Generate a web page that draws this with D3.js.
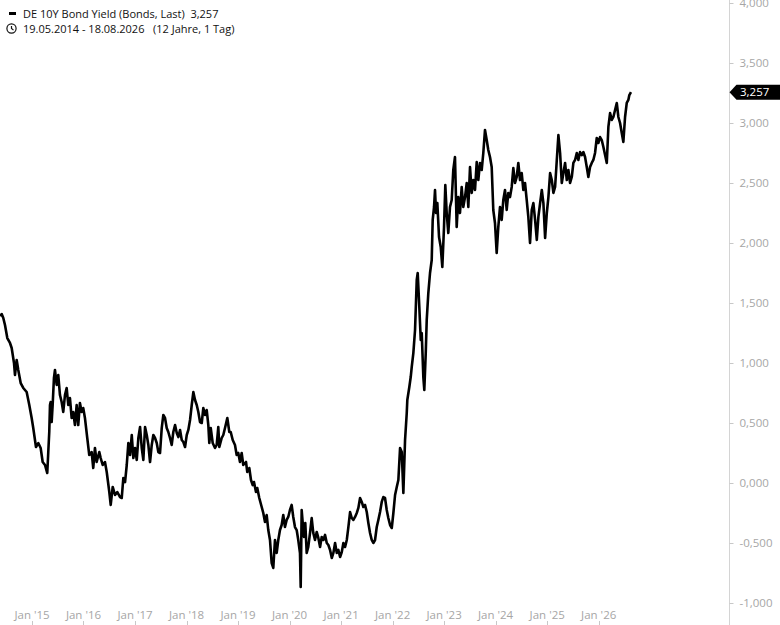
<!DOCTYPE html>
<html>
<head>
<meta charset="utf-8">
<script src="https://cdn.jsdelivr.net/npm/d3@7"></script>
<style>
  body { margin: 0; background: #fff; }
  svg { display: block; font-family: "Open Sans", "Noto Sans", sans-serif; }
</style>
</head>
<body>
<div id="chart"></div>
<script>
// chart size
var svgWidth = 780;
var svgHeight = 625;

// series: time as decimal years (percent)
var years = [
  2014.378, 2014.411, 2014.442, 2014.475, 2014.520, 2014.572, 2014.605, 2014.650, 2014.669, 2014.702,
  2014.733, 2014.780, 2014.830, 2014.896, 2014.947, 2014.993, 2015.024, 2015.077, 2015.122, 2015.168,
  2015.207, 2015.252, 2015.296, 2015.316, 2015.335, 2015.349, 2015.362, 2015.382, 2015.401, 2015.426,
  2015.446, 2015.479, 2015.510, 2015.543, 2015.576, 2015.607, 2015.640, 2015.673, 2015.704, 2015.737,
  2015.770, 2015.801, 2015.834, 2015.867, 2015.898, 2015.931, 2015.964, 2015.995, 2016.028, 2016.073,
  2016.112, 2016.158, 2016.189, 2016.222, 2016.255, 2016.306, 2016.333, 2016.372, 2016.416, 2016.450,
  2016.500, 2016.527, 2016.566, 2016.611, 2016.655, 2016.708, 2016.741, 2016.772, 2016.805, 2016.838,
  2016.869, 2016.902, 2016.935, 2016.966, 2016.999, 2017.032, 2017.063, 2017.096, 2017.129, 2017.160,
  2017.193, 2017.226, 2017.257, 2017.290, 2017.323, 2017.354, 2017.387, 2017.420, 2017.451, 2017.484,
  2017.517, 2017.548, 2017.581, 2017.614, 2017.645, 2017.678, 2017.711, 2017.742, 2017.776, 2017.809,
  2017.840, 2017.873, 2017.906, 2017.937, 2017.970, 2018.003, 2018.034, 2018.067, 2018.100, 2018.131,
  2018.164, 2018.197, 2018.228, 2018.261, 2018.294, 2018.325, 2018.358, 2018.391, 2018.422, 2018.441,
  2018.469, 2018.507, 2018.552, 2018.585, 2018.616, 2018.636, 2018.682, 2018.713, 2018.746, 2018.791,
  2018.830, 2018.857, 2018.896, 2018.940, 2018.973, 2019.004, 2019.037, 2019.070, 2019.101, 2019.154,
  2019.179, 2019.218, 2019.251, 2019.284, 2019.309, 2019.348, 2019.373, 2019.412, 2019.459, 2019.490,
  2019.523, 2019.556, 2019.587, 2019.620, 2019.653, 2019.684, 2019.717, 2019.750, 2019.781, 2019.814,
  2019.847, 2019.878, 2019.911, 2019.944, 2019.975, 2020.008, 2020.041, 2020.072, 2020.105, 2020.138,
  2020.169, 2020.202, 2020.216, 2020.235, 2020.255, 2020.280, 2020.305, 2020.332, 2020.363, 2020.396,
  2020.429, 2020.460, 2020.493, 2020.526, 2020.558, 2020.591, 2020.623, 2020.655, 2020.688, 2020.721,
  2020.752, 2020.785, 2020.818, 2020.849, 2020.882, 2020.915, 2020.946, 2020.979, 2021.012, 2021.043,
  2021.076, 2021.109, 2021.140, 2021.173, 2021.206, 2021.237, 2021.270, 2021.303, 2021.334, 2021.367,
  2021.400, 2021.431, 2021.464, 2021.497, 2021.528, 2021.561, 2021.594, 2021.625, 2021.658, 2021.691,
  2021.722, 2021.755, 2021.788, 2021.819, 2021.852, 2021.885, 2021.916, 2021.950, 2021.983, 2022.014,
  2022.047, 2022.080, 2022.111, 2022.144, 2022.177, 2022.208, 2022.241, 2022.274, 2022.285, 2022.324,
  2022.351, 2022.371, 2022.402, 2022.435, 2022.468, 2022.487, 2022.518, 2022.546, 2022.565, 2022.596,
  2022.615, 2022.643, 2022.662, 2022.693, 2022.726, 2022.759, 2022.778, 2022.804, 2022.823, 2022.843,
  2022.868, 2022.901, 2022.934, 2022.965, 2022.998, 2023.023, 2023.050, 2023.081, 2023.114, 2023.147,
  2023.178, 2023.211, 2023.244, 2023.275, 2023.308, 2023.341, 2023.372, 2023.406, 2023.439, 2023.470,
  2023.503, 2023.536, 2023.567, 2023.600, 2023.633, 2023.664, 2023.697, 2023.730, 2023.761, 2023.794,
  2023.827, 2023.858, 2023.891, 2023.924, 2023.955, 2023.988, 2024.021, 2024.052, 2024.085, 2024.118,
  2024.149, 2024.182, 2024.215, 2024.246, 2024.279, 2024.312, 2024.343, 2024.376, 2024.409, 2024.440,
  2024.473, 2024.506, 2024.537, 2024.570, 2024.603, 2024.634, 2024.667, 2024.700, 2024.732, 2024.765,
  2024.798, 2024.829, 2024.862, 2024.895, 2024.926, 2024.959, 2024.992, 2025.023, 2025.056, 2025.089,
  2025.120, 2025.153, 2025.186, 2025.217, 2025.250, 2025.283, 2025.314, 2025.347, 2025.380, 2025.411,
  2025.444, 2025.477, 2025.508, 2025.541, 2025.574, 2025.605, 2025.638, 2025.671, 2025.702, 2025.735,
  2025.768, 2025.799, 2025.832, 2025.865, 2025.896, 2025.929, 2025.962, 2025.993, 2026.026, 2026.059,
  2026.091, 2026.124, 2026.157, 2026.188, 2026.221, 2026.254, 2026.285, 2026.318, 2026.351, 2026.382,
  2026.415, 2026.448, 2026.479, 2026.512, 2026.545, 2026.576, 2026.595, 2026.627
];

var yields = [
  1.392, 1.408, 1.375, 1.317, 1.208, 1.167, 1.125, 1.000, 0.900, 1.025,
  0.942, 0.833, 0.792, 0.758, 0.650, 0.542, 0.458, 0.300, 0.333, 0.292,
  0.175, 0.150, 0.083, 0.258, 0.425, 0.650, 0.675, 0.508, 0.650, 0.875,
  0.942, 0.817, 0.900, 0.733, 0.675, 0.592, 0.733, 0.792, 0.650, 0.708,
  0.542, 0.592, 0.483, 0.650, 0.483, 0.667, 0.592, 0.625, 0.542, 0.375,
  0.233, 0.258, 0.125, 0.292, 0.175, 0.258, 0.208, 0.150, 0.175, 0.092,
  -0.075, -0.183, -0.033, -0.100, -0.075, -0.117, -0.125, 0.042, 0.008, 0.150,
  0.333, 0.233, 0.400, 0.208, 0.292, 0.192, 0.375, 0.467, 0.292, 0.192,
  0.467, 0.400, 0.317, 0.175, 0.317, 0.400, 0.375, 0.333, 0.258, 0.250,
  0.458, 0.567, 0.542, 0.458, 0.425, 0.375, 0.317, 0.425, 0.483, 0.417,
  0.383, 0.442, 0.358, 0.342, 0.300, 0.400, 0.442, 0.525, 0.650, 0.758,
  0.692, 0.650, 0.592, 0.508, 0.500, 0.625, 0.567, 0.608, 0.483, 0.333,
  0.458, 0.333, 0.292, 0.317, 0.467, 0.300, 0.375, 0.400, 0.458, 0.542,
  0.425, 0.425, 0.358, 0.317, 0.233, 0.250, 0.175, 0.250, 0.150, 0.175,
  0.092, 0.125, 0.025, -0.017, 0.008, -0.075, -0.042, -0.125, -0.200, -0.250,
  -0.325, -0.267, -0.392, -0.475, -0.667, -0.708, -0.475, -0.583, -0.475, -0.392,
  -0.350, -0.267, -0.367, -0.308, -0.283, -0.225, -0.183, -0.283, -0.367, -0.392,
  -0.475, -0.583, -0.867, -0.225, -0.333, -0.450, -0.333, -0.583, -0.533, -0.417,
  -0.292, -0.417, -0.475, -0.408, -0.458, -0.533, -0.450, -0.475, -0.433, -0.500,
  -0.517, -0.558, -0.625, -0.583, -0.500, -0.583, -0.558, -0.617, -0.575, -0.500,
  -0.533, -0.475, -0.367, -0.242, -0.292, -0.308, -0.283, -0.250, -0.208, -0.125,
  -0.158, -0.200, -0.183, -0.242, -0.333, -0.417, -0.475, -0.500, -0.475, -0.367,
  -0.308, -0.242, -0.158, -0.117, -0.125, -0.225, -0.292, -0.350, -0.375, -0.250,
  -0.100, -0.033, 0.025, 0.292, 0.258, -0.083, 0.358, 0.583, 0.692, 0.800,
  0.883, 0.967, 1.083, 1.275, 1.692, 1.750, 1.467, 1.192, 1.250, 0.883,
  0.775, 1.083, 1.358, 1.583, 1.750, 1.858, 2.192, 2.300, 2.442, 2.250,
  2.333, 2.050, 1.967, 1.800, 2.133, 2.483, 2.250, 2.083, 2.300, 2.358,
  2.608, 2.717, 2.133, 2.383, 2.250, 2.467, 2.300, 2.383, 2.500, 2.300,
  2.633, 2.417, 2.525, 2.442, 2.675, 2.525, 2.667, 2.608, 2.750, 2.942,
  2.858, 2.775, 2.717, 2.633, 2.275, 2.167, 1.917, 2.133, 2.300, 2.192,
  2.358, 2.442, 2.275, 2.417, 2.383, 2.467, 2.625, 2.500, 2.550, 2.667,
  2.525, 2.583, 2.442, 2.500, 2.358, 2.217, 2.000, 2.275, 2.333, 2.192,
  2.025, 2.217, 2.333, 2.442, 2.333, 2.042, 2.250, 2.383, 2.583, 2.525,
  2.417, 2.467, 2.692, 2.900, 2.750, 2.500, 2.583, 2.667, 2.525, 2.608,
  2.500, 2.550, 2.667, 2.692, 2.750, 2.692, 2.758, 2.733, 2.758, 2.717,
  2.633, 2.550, 2.633, 2.667, 2.692, 2.750, 2.875, 2.833, 2.883, 2.858,
  2.800, 2.733, 2.667, 2.967, 3.083, 3.025, 3.050, 3.108, 3.167, 3.050,
  3.000, 2.917, 2.842, 3.050, 3.167, 3.192, 3.233, 3.257
];

// axis ticks and header texts
var yTicks = [4, 3.5, 3, 2.5, 2, 1.5, 1, 0.5, 0, -0.5, -1];
var xTickYears = [2015, 2016, 2017, 2018, 2019, 2020, 2021, 2022, 2023, 2024, 2025, 2026];
var dateFrom = "2014-05-19";
var dateTo = "2026-08-18";
var legendTitle = "DE 10Y Bond Yield (Bonds, Last)  3,257";
var legendRange = "19.05.2014 - 18.08.2026   (12 Jahre, 1 Tag)";
var lastValue = 3.257;

// decimal year -> UTC date
function yearToDate(y) {
    var yr = Math.floor(y);
    var start = Date.UTC(yr, 0, 1);
    var end = Date.UTC(yr + 1, 0, 1);
    return new Date(start + (y - yr) * (end - start));
}

var dataset = years.map(function(y, i) {
    return { date: yearToDate(y), value: yields[i] };
});

// german number format
var deLocale = d3.formatLocale({
    decimal: ",",
    thousands: ".",
    grouping: [3],
    currency: ["", " €"],
    minus: "-"
});
var fmt = deLocale.format(".3f");

var svg = d3.select("#chart")
    .append("svg")
    .attr("width", svgWidth)
    .attr("height", svgHeight);

// scales
var xScale = d3.scaleUtc()
    .domain([new Date(dateFrom), new Date(dateTo)])
    .range([0, 631]);

var yScale = d3.scaleLinear()
    .domain([-1, 4])
    .range([603, 3]);

// right axis
var axisX = 729.5;
svg.append("line")
    .attr("x1", axisX).attr("x2", axisX)
    .attr("y1", 0).attr("y2", svgHeight)
    .attr("stroke", "#d4d4d4")
    .attr("stroke-width", 1);

var yAxis = svg.append("g")
    .attr("transform", `translate(${axisX}, 0)`)
    .call(d3.axisRight(yScale)
        .tickValues(yTicks)
        .tickSize(4)
        .tickPadding(6)
        .tickFormat(fmt));

yAxis.select(".domain").remove();
yAxis.selectAll(".tick line").attr("stroke", "#c8c8c8");
yAxis.selectAll(".tick text")
    .attr("fill", "#a6a6a6")
    .style("font-size", "11.5px")
    .style("font-family", "'Open Sans', sans-serif");

// bottom axis: labels sit above small ticks at the very bottom
var xTicks = xTickYears.map(function(y) { return new Date(Date.UTC(y, 0, 1)); });
var xAxisG = svg.append("g");

xAxisG.selectAll("line")
    .data(xTicks)
    .enter()
    .append("line")
    .attr("x1", d => Math.round(xScale(d)) + 0.5)
    .attr("x2", d => Math.round(xScale(d)) + 0.5)
    .attr("y1", 621)
    .attr("y2", 625)
    .attr("stroke", "#c8c8c8");

xAxisG.selectAll("text")
    .data(xTicks)
    .enter()
    .append("text")
    .attr("x", d => xScale(d))
    .attr("y", 619)
    .attr("text-anchor", "middle")
    .attr("fill", "#a6a6a6")
    .style("font-size", "11.5px")
    .text(d => "Jan '" + d3.utcFormat("%y")(d));

// the line
var line = d3.line()
    .x(d => xScale(d.date))
    .y(d => yScale(d.value));

svg.append("path")
    .datum(dataset)
    .attr("fill", "none")
    .attr("stroke", "#000")
    .attr("stroke-width", 2.6)
    .attr("stroke-linejoin", "round")
    .attr("d", line);

// last value tag on the axis
var tagY = yScale(lastValue);
svg.append("path")
    .attr("d", `M${axisX},${tagY} L${axisX + 7},${tagY - 7.5} L780,${tagY - 7.5} L780,${tagY + 7.5} L${axisX + 7},${tagY + 7.5} Z`)
    .attr("fill", "#000");

svg.append("text")
    .attr("x", 740)
    .attr("y", tagY)
    .attr("dy", "0.36em")
    .attr("fill", "#fff")
    .style("font-size", "11.5px")
    .text(fmt(lastValue));

// legend
svg.append("rect")
    .attr("x", 9).attr("y", 12)
    .attr("width", 7).attr("height", 3)
    .attr("fill", "#000");

svg.append("text")
    .attr("x", 23).attr("y", 17.5)
    .attr("fill", "#111")
    .style("font-size", "11px")
    .style("white-space", "pre")
    .attr("xml:space", "preserve")
    .text(legendTitle);

// clock icon
var clock = svg.append("g").attr("transform", "translate(11.5, 28.5)");
clock.append("circle")
    .attr("r", 4.6)
    .attr("fill", "none")
    .attr("stroke", "#111")
    .attr("stroke-width", 1.2);
clock.append("path")
    .attr("d", "M0,-2.6 L0,0 L2,1.6")
    .attr("fill", "none")
    .attr("stroke", "#111")
    .attr("stroke-width", 1.2);

svg.append("text")
    .attr("x", 23).attr("y", 32.5)
    .attr("fill", "#111")
    .style("font-size", "11px")
    .style("white-space", "pre")
    .attr("xml:space", "preserve")
    .text(legendRange);
</script>
</body>
</html>
